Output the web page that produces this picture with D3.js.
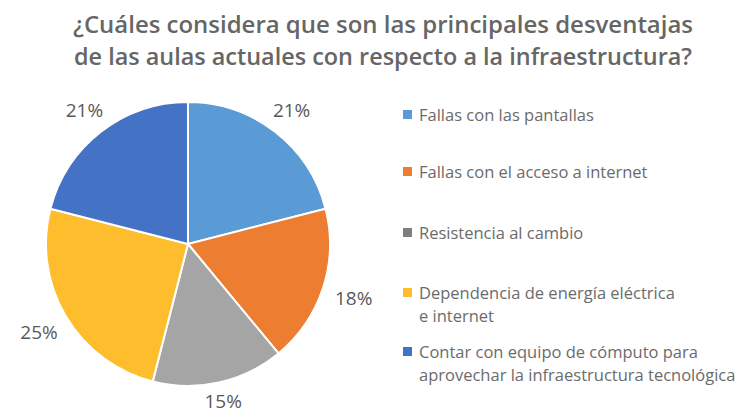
<!DOCTYPE html>
<html>
<head>
<meta charset="utf-8">
<script src="https://cdn.jsdelivr.net/npm/d3@7"></script>
<style>
  body { margin: 0; background: #fff; }
  svg { display: block; }
</style>
</head>
<body>
<svg id="chart" width="743" height="413"></svg>
<script>
// chart values
let categories = [
    ["Fallas con las pantallas"],
    ["Fallas con el acceso a internet"],
    ["Resistencia al cambio"],
    ["Dependencia de energía eléctrica", "e internet"],
    ["Contar con equipo de cómputo para", "aprovechar la infraestructura tecnológica"]
];
let values = [21, 18, 15, 25, 21];
let sliceColors = ["#5b9bd5", "#ed7d31", "#a5a5a5", "#fdbd2d", "#4472c4"];
let legendColors = ["#5b9bd5", "#ed7d31", "#7f7f7f", "#fdbd2d", "#4472c4"];
let titleLines = [
    "¿Cuáles considera que son las principales desventajas",
    "de las aulas actuales con respecto a la infraestructura?"
];

let svg = d3.select("#chart");

// title
svg.append("g")
    .selectAll("text")
    .data(titleLines)
    .join("text")
    .attr("x", 383)
    .attr("y", (d, i) => 33 + i * 32)
    .attr("text-anchor", "middle")
    .attr("font-family", "'Open Sans', sans-serif")
    .attr("font-weight", 600)
    .attr("font-size", 24)
    .attr("fill", "#666666")
    .attr("textLength", (d, i) => i == 0 ? 620 : 618)
    .attr("lengthAdjust", "spacingAndGlyphs")
    .text(d => d);

// pie
let radius = 142;
let pieG = svg.append("g")
    .attr("transform", "translate(188,244)");

let pie = d3.pie().sort(null).value(d => d);
let arcs = pie(values);

let arc = d3.arc().innerRadius(0).outerRadius(radius);

pieG.selectAll("path")
    .data(arcs)
    .join("path")
    .attr("d", arc)
    .attr("fill", (d, i) => sliceColors[i])
    .attr("stroke", "#fff")
    .attr("stroke-width", 2)
    .attr("stroke-linejoin", "round");

// labels sit just outside the rim, pushed out by half the label box
function labelPos(d) {
    let a = (d.startAngle + d.endAngle) / 2;
    let s = Math.sin(a), c = Math.cos(a);
    let r = radius + 11 + Math.abs(s) * 21 + Math.abs(c) * 4;
    return [s * r, -c * r];
}

pieG.selectAll("text")
    .data(arcs)
    .join("text")
    .attr("transform", d => "translate(" + labelPos(d) + ")")
    .attr("text-anchor", "middle")
    .attr("dy", "0.36em")
    .attr("font-family", "'Open Sans', sans-serif")
    .attr("font-size", 19)
    .attr("fill", "#595959")
    .text(d => d.data + "%");

// legend
let legendY = [115, 172, 233, 293, 352];
let legend = svg.append("g")
    .selectAll("g")
    .data(categories)
    .join("g")
    .attr("transform", (d, i) => "translate(403," + legendY[i] + ")");

legend.append("rect")
    .attr("x", 0)
    .attr("y", -5)
    .attr("width", 9)
    .attr("height", 9)
    .attr("fill", (d, i) => legendColors[i]);

legend.append("text")
    .attr("font-family", "'Open Sans', sans-serif")
    .attr("font-size", 16.5)
    .attr("fill", "#6b6b6b")
    .selectAll("tspan")
    .data(d => d)
    .join("tspan")
    .attr("x", 16)
    .attr("y", (d, i) => 6 + i * 23)
    .text(d => d);
</script>
</body>
</html>
